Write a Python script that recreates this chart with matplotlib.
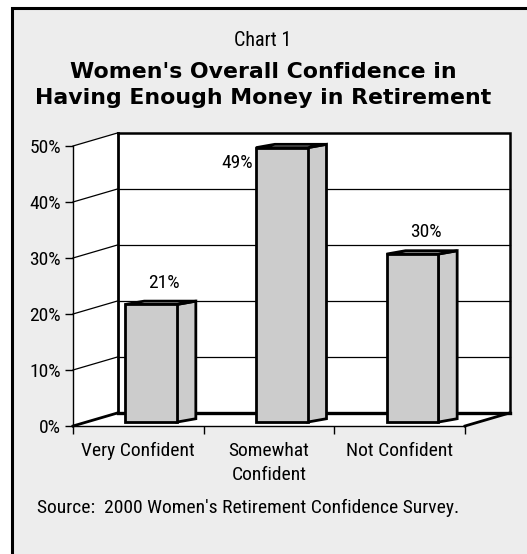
import matplotlib

matplotlib.use("Agg")
import matplotlib.pyplot as plt
from matplotlib.patches import Polygon, Rectangle

# ---- data -------------------------------------------------------------------
categories = ["Very Confident", "Somewhat\nConfident", "Not Confident"]
values = [21, 49, 30]
yticks = [0, 10, 20, 30, 40, 50]
ytick_labels = [f"{v}%" for v in yticks]

# ---- faux-3d geometry (data units: categories on x, percent on y) ----------
DX, DY = 0.344, 2.35        # wall depth offset
BAR_OFF, BAR_W = 0.40, 0.395
BAR_BASE = 0.7              # bars sit a little behind the front edge
BDX, BDY = 0.145, 0.6       # bar depth
BAR_FACE = "#cccccc"
PANEL = "#ededed"

plt.rcParams["font.family"] = ["Roboto Condensed", "Liberation Sans Narrow",
                               "DejaVu Sans"]

fig = plt.figure(figsize=(5.27, 5.54), dpi=100)
fig.patch.set_facecolor("white")
fig.patches.append(Rectangle((12 / 527, -0.2), 1.2, 1.2 - 8 / 554,
                             transform=fig.transFigure, facecolor=PANEL,
                             edgecolor="black", lw=2.2, zorder=-1))

ax = fig.add_axes([73 / 527, 128 / 554, 392 / 527, 280 / 554])
ax.set_facecolor("none")
ax.set_xlim(0, 3)
ax.set_ylim(0, 50)
n = len(categories)
top = yticks[-1]

kw = dict(clip_on=False)
# walls
ax.add_patch(Polygon([(0, 0), (0, top), (DX, top + DY), (DX, DY)],
                     facecolor="white", edgecolor="none", zorder=0.5, **kw))
ax.add_patch(Rectangle((DX, DY), n, top, facecolor="white",
                       edgecolor="none", zorder=0.5, **kw))
ax.add_patch(Polygon([(0, 0), (n, 0), (n + DX, DY), (DX, DY)],
                     facecolor="white", edgecolor="none", zorder=0.5, **kw))

# gridlines
for v in yticks:
    lw = 2.0 if v == 0 else 0.9
    ax.plot([0, DX], [v, v + DY], color="black", lw=lw, zorder=1, **kw)
    if 0 < v < top:
        ax.plot([DX, n + DX], [v + DY, v + DY], color="black", lw=0.9,
                zorder=1, **kw)
# wall edges
ax.plot([DX, n + DX, n + DX], [top + DY, top + DY, DY], color="black",
        lw=1.8, zorder=1.2, solid_joinstyle="miter", **kw)
ax.plot([DX, DX], [DY, top + DY], color="black", lw=2.0, zorder=1.2, **kw)
ax.plot([DX, n + DX], [DY, DY], color="black", lw=2.4, zorder=1.2, **kw)
ax.plot([n, n + DX], [0, DY], color="black", lw=2.0, zorder=1.2, **kw)

# bars
for i, v in enumerate(values):
    x0 = i + BAR_OFF
    x1 = x0 + BAR_W
    y0 = BAR_BASE
    y1 = BAR_BASE + v
    style = dict(facecolor=BAR_FACE, edgecolor="black", lw=2.0,
                 joinstyle="miter", zorder=3, **kw)
    ax.add_patch(Polygon([(x1, y0), (x1 + BDX, y0 + BDY),
                          (x1 + BDX, y1 + BDY), (x1, y1)], **style))
    ax.add_patch(Polygon([(x0, y1), (x0 + BDX, y1 + BDY),
                          (x1 + BDX, y1 + BDY), (x1, y1)], **style))
    ax.add_patch(Rectangle((x0, y0), BAR_W, v, **style))
    if v + 6 > top:
        ax.text(x0 - 0.025, v - 2, f"{v}%", ha="right", va="center",
                fontsize=14, zorder=4)
    else:
        ax.text(x0 + BAR_W / 2 + BDX * 0.7, y1 + BDY + 1.7, f"{v}%",
                ha="center", va="bottom", fontsize=14, zorder=4)

# axes
for s in ("top", "right"):
    ax.spines[s].set_visible(False)
for s in ("left", "bottom"):
    ax.spines[s].set_linewidth(1.0)
    ax.spines[s].set_zorder(2)
ax.set_yticks(yticks)
ax.set_yticklabels(ytick_labels, fontsize=14)
ax.set_xticks(range(n + 1))
ax.set_xticklabels([])
ax.set_xticks([i + 0.5 for i in range(n)], minor=True)
ax.set_xticklabels(categories, minor=True, fontsize=14)
for lbl in ax.get_xticklabels(minor=True):
    lbl.set_linespacing(1.4)
ax.tick_params(axis="both", which="major", direction="out", length=5.8,
               width=1.0)
ax.tick_params(axis="y", pad=3)
ax.tick_params(axis="x", which="minor", length=0, pad=11.5)

# titles and source
fig.text(0.499, 1 - 40 / 554, "Chart 1", ha="center", va="center",
         fontsize=14.5)
fig.text(0.499, 1 - 72 / 554, "Women's Overall Confidence in",
         ha="center", va="center", fontsize=15.8, fontweight="bold",
         family="DejaVu Sans")
fig.text(0.499, 1 - 98 / 554, "Having Enough Money in Retirement",
         ha="center", va="center", fontsize=15.8, fontweight="bold",
         family="DejaVu Sans")
fig.text(37 / 527, 1 - 508 / 554,
         "Source:  2000 Women's Retirement Confidence Survey.",
         ha="left", va="center", fontsize=14)

fig.savefig("out.png", dpi=100)
